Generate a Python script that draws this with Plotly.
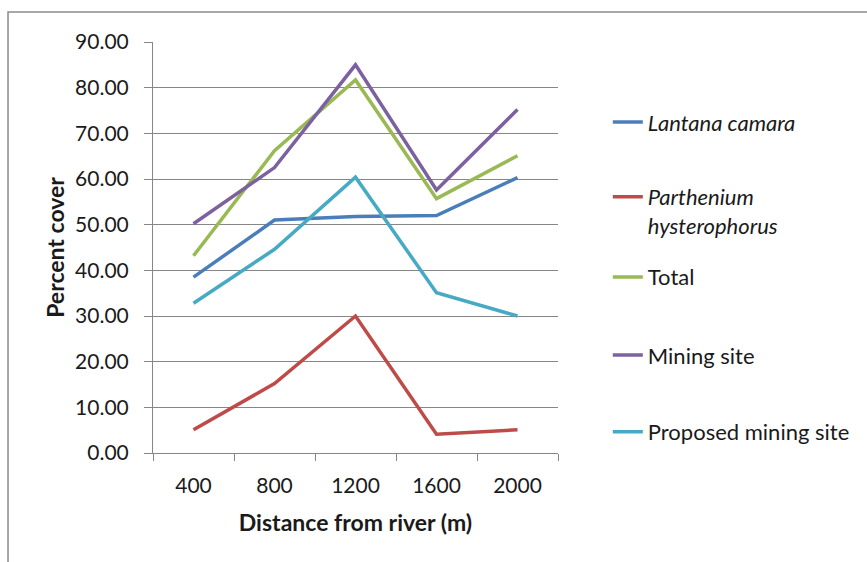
import plotly.graph_objects as go

# Distance classes (m) and percent cover per series
distances = ["400", "800", "1200", "1600", "2000"]
lantana = [38.5, 51.0, 51.8, 52.0, 60.3]
parthenium = [5.1, 15.2, 30.0, 4.1, 5.1]
total = [43.2, 66.2, 81.7, 55.7, 65.1]
mining_site = [50.2, 62.5, 85.0, 57.6, 75.2]
proposed_site = [32.8, 44.6, 60.4, 35.1, 30.0]

series = [
    ("<i>Lantana camara</i>", lantana, "#4A7EBB", "legend", 0.805, "middle"),
    ("<i>Parthenium<br>hysterophorus</i>", parthenium, "#BE4B48", "legend2", 0.674, "top"),
    ("Total", total, "#98B954", "legend3", 0.428, "middle"),
    ("Mining site", mining_site, "#7D60A0", "legend4", 0.238, "middle"),
    ("Proposed mining site", proposed_site, "#46AAC5", "legend5", 0.051, "middle"),
]

FONT = "Lato, Calibri, Carlito, sans-serif"
GREY = "#868686"
TEXT = "#1a1a1a"

fig = go.Figure()
legends = {}
for name, vals, color, leg, ypos, anchor in series:
    fig.add_trace(go.Scatter(
        x=distances, y=vals, name=name, mode="lines",
        line=dict(color=color, width=3.5),
        legend=leg,
    ))
    legends[leg] = dict(
        x=1.123, xanchor="left", y=ypos, yanchor=anchor,
        font=dict(family=FONT, size=22, color=TEXT),
        bgcolor="rgba(0,0,0,0)", borderwidth=0,
        valign="top", itemwidth=30,
    )

fig.update_layout(
    width=867, height=562,
    margin=dict(l=153, r=309, t=42, b=109),
    paper_bgcolor="white", plot_bgcolor="white",
    font=dict(family=FONT, size=21, color=TEXT),
    showlegend=True,
    **legends,
    xaxis=dict(
        type="category", range=[-0.5, 4.5], tickson="boundaries",
        ticks="outside", ticklen=7, tickcolor=GREY,
        showline=True, linecolor=GREY, linewidth=1,
        showgrid=False, zeroline=False,
        ticklabelstandoff=14,
        tickfont=dict(family=FONT, size=21),
        title=dict(text="<b>Distance from river (m)</b>",
                   font=dict(family=FONT, size=23), standoff=18),
    ),
    yaxis=dict(
        range=[0, 90], dtick=10, tickformat=".2f",
        ticks="outside", ticklen=8, tickcolor=GREY,
        showline=True, linecolor=GREY, linewidth=1,
        showgrid=True, gridcolor=GREY, gridwidth=1,
        zeroline=False,
        ticklabelstandoff=11,
        tickfont=dict(family=FONT, size=21),
        title=dict(text="<b>Percent cover</b>",
                   font=dict(family=FONT, size=23), standoff=4),
    ),
    shapes=[dict(
        type="rect", xref="paper", yref="paper",
        x0=-0.358, x1=2.0, y0=-0.6, y1=1.073,
        line=dict(color="#8C8C8C", width=1.5), layer="below",
    )],
)

fig.write_html("out.html")
